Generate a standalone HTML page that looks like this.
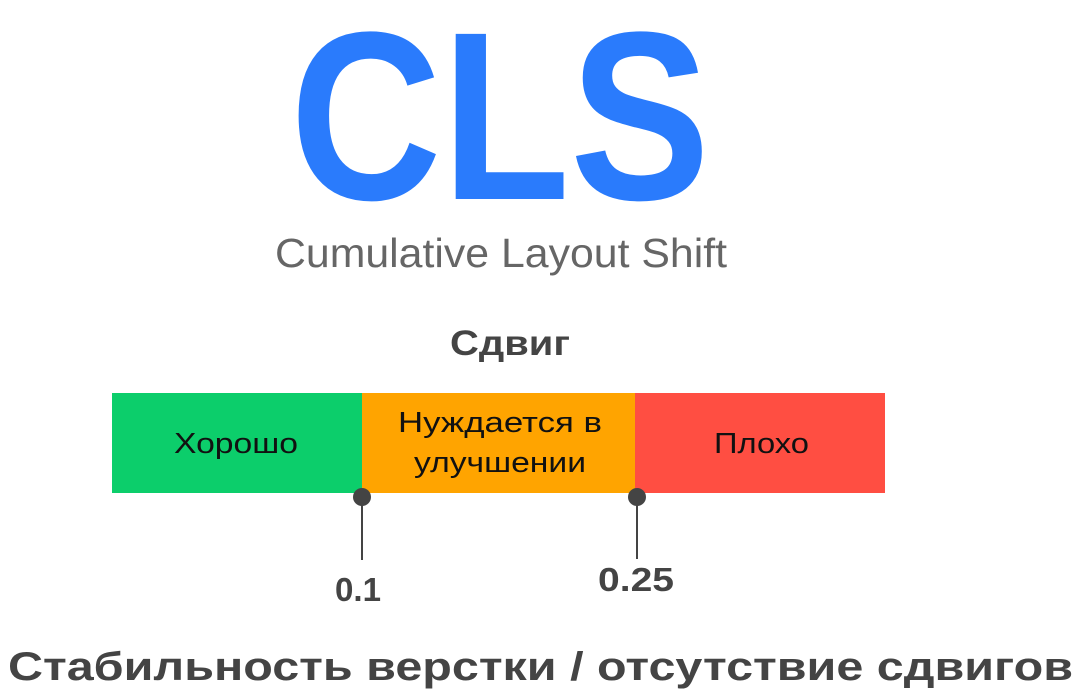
<!DOCTYPE html>
<html><head><meta charset="utf-8"><style>
html,body{margin:0;padding:0;background:#fff;width:1083px;height:693px;overflow:hidden}
svg{display:block}
text{font-family:"Liberation Sans",sans-serif}
</style></head><body>
<svg width="1083" height="693" viewBox="0 0 1083 693" xmlns="http://www.w3.org/2000/svg">
<text x="290" y="199" font-size="240" font-weight="bold" fill="#2a7bfc" textLength="420" lengthAdjust="spacingAndGlyphs">CLS</text>
<text x="275" y="267" font-size="41" fill="#666" textLength="452" lengthAdjust="spacingAndGlyphs">Cumulative Layout Shift</text>
<text x="450" y="355" font-size="35" font-weight="bold" fill="#444" textLength="120" lengthAdjust="spacingAndGlyphs">Сдвиг</text>
<rect x="112" y="393" width="250" height="100" fill="#0cce6b"/>
<rect x="362" y="393" width="273" height="100" fill="#ffa400"/>
<rect x="635" y="393" width="250" height="100" fill="#ff4e42"/>
<g font-size="29" fill="#111">
<text x="174" y="453" textLength="124" lengthAdjust="spacingAndGlyphs">Хорошо</text>
<text x="398" y="432" textLength="204" lengthAdjust="spacingAndGlyphs">Нуждается в</text>
<text x="414" y="472" textLength="172" lengthAdjust="spacingAndGlyphs">улучшении</text>
<text x="714" y="453" textLength="95" lengthAdjust="spacingAndGlyphs">Плохо</text>
</g>
<g fill="#444" stroke="#444">
<line x1="362" y1="497" x2="362" y2="560" stroke-width="2"/>
<circle cx="362" cy="497" r="9" stroke="none"/>
<line x1="637" y1="497" x2="637" y2="559" stroke-width="2"/>
<circle cx="637" cy="497" r="9" stroke="none"/>
</g>
<g font-size="33" fill="#444" font-weight="bold">
<text x="335" y="601" textLength="46" lengthAdjust="spacingAndGlyphs">0.1</text>
<text x="598" y="591" textLength="76" lengthAdjust="spacingAndGlyphs">0.25</text>
</g>
<text x="8" y="680" font-size="40" font-weight="bold" fill="#444" textLength="1065" lengthAdjust="spacingAndGlyphs">Стабильность верстки / отсутствие сдвигов</text>
</svg>
</body></html>
